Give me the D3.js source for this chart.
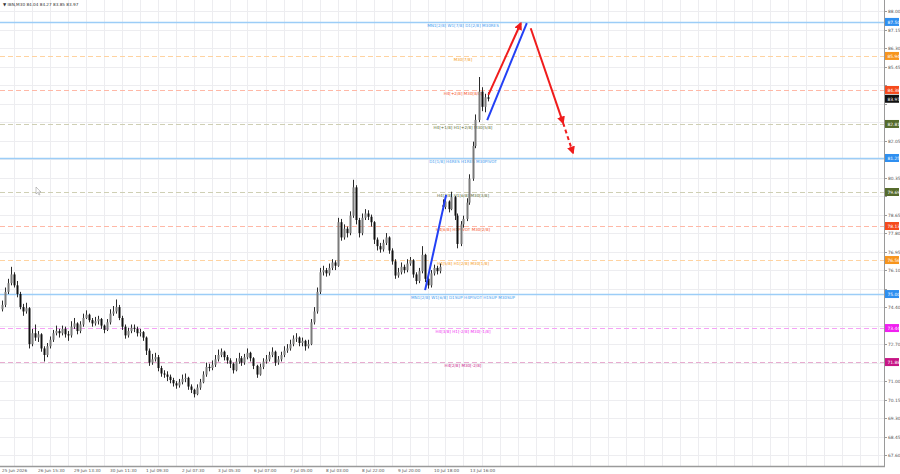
<!DOCTYPE html>
<html>
<head>
<meta charset="utf-8">
<script src="https://cdn.jsdelivr.net/npm/d3@7"></script>
<style>
  body { margin: 0; background: #fff; }
  svg { display: block; font-family: "DejaVu Sans", sans-serif; }
</style>
</head>
<body>
<div class="container"></div>
<script>
/*
IBN M30 candles with murrey-style levels and drawn arrows.
  x = bar index (3px per bar), y = price
*/

const width = 900;
const height = 474;
const plotRight = 884;
const plotBottom = 466;

const symbol = 'IBN,M30';
const lastOHLC = ['84.04', '84.27', '83.85', '83.97'];

const opens = [74.3, 74.5, 75.1, 75.5, 75.9, 75.4, 75.0, 74.4, 74.2, 74.35,
    72.7, 73.2, 73.0, 73.15, 72.5, 72.2, 72.6, 72.9, 73.2, 73.3,
    73.2, 73.4, 73.15, 73.1, 73.5, 73.65, 73.3, 73.6, 73.9, 74.05,
    73.8, 73.65, 73.75, 73.85, 73.55, 73.35, 73.7, 74.1, 74.2, 74.4,
    73.9, 73.5, 73.1, 73.3, 73.45, 73.4, 73.2, 73.25, 73.0, 72.4,
    71.85, 72.0, 72.1, 71.6, 71.35, 71.3, 71.2, 71.05, 70.9, 70.8,
    70.95, 71.1, 71.15, 70.75, 70.6, 70.4, 70.7, 70.95, 71.3, 71.65,
    71.6, 71.75, 72.0, 72.2, 72.35, 72.1, 71.95, 71.8, 71.5, 71.9,
    72.05, 71.85, 72.1, 72.3, 72.05, 71.7, 71.3, 71.65, 71.9, 72.0,
    72.2, 72.35, 71.85, 72.0, 72.2, 72.4, 72.5, 72.7, 72.95, 73.0,
    72.75, 72.85, 72.6, 72.7, 73.7, 74.2, 75.1, 76.0, 76.1, 75.95,
    76.2, 76.45, 76.3, 78.3, 77.6, 78.0, 77.8, 78.6, 79.9, 78.4,
    77.8, 78.5, 78.7, 78.55, 78.3, 77.5, 77.2, 77.05, 77.35, 77.6,
    77.0, 76.5, 75.85, 76.0, 76.25, 76.1, 76.4, 76.55, 75.9, 75.6,
    76.05, 76.8, 75.7, 75.4, 75.95, 76.2, 76.05, 79.1, 79.0, 79.25,
    78.9, 79.45, 78.6, 77.3, 78.2, 78.45, 79.2, 80.3, 81.8, 83.0,
    84.3, 83.6, 84.04];

const highs = [74.7, 75.3, 75.7, 76.25, 76.0, 75.6, 75.1, 74.55, 74.6, 74.4,
    73.4, 73.6, 73.3, 73.2, 72.6, 72.75, 73.05, 73.35, 73.55, 73.4,
    73.55, 73.5, 73.3, 73.75, 73.9, 73.7, 73.75, 74.1, 74.25, 74.1,
    73.9, 73.95, 74.0, 73.9, 73.6, 73.85, 74.3, 74.45, 74.75, 74.5,
    74.0, 73.6, 73.45, 73.6, 73.6, 73.5, 73.4, 73.3, 73.05, 72.5,
    72.25, 72.3, 72.2, 71.7, 71.5, 71.45, 71.3, 71.15, 71.0, 71.1,
    71.3, 71.35, 71.2, 70.85, 70.65, 70.85, 71.1, 71.45, 71.85, 71.8,
    71.95, 72.2, 72.45, 72.5, 72.4, 72.2, 72.05, 71.85, 72.05, 72.3,
    72.15, 72.25, 72.5, 72.35, 72.1, 71.75, 71.8, 72.05, 72.2, 72.35,
    72.55, 72.4, 72.15, 72.35, 72.6, 72.7, 72.9, 73.1, 73.2, 73.05,
    73.0, 72.9, 72.9, 73.85, 74.4, 75.3, 76.2, 76.3, 76.2, 76.4,
    76.6, 76.55, 78.5, 78.45, 78.2, 78.1, 78.8, 80.25, 80.0, 78.5,
    78.7, 78.9, 78.85, 78.65, 78.35, 77.6, 77.35, 77.5, 77.8, 77.65,
    77.1, 76.6, 76.2, 76.45, 76.35, 76.6, 76.7, 76.6, 76.0, 76.2,
    77.2, 76.85, 75.8, 76.1, 76.35, 76.3, 76.4, 79.35, 79.5, 79.3,
    79.7, 79.5, 78.7, 78.35, 78.6, 79.4, 80.5, 82.0, 83.25, 84.97,
    84.5, 84.2, 84.27];

const lows = [74.2, 74.4, 75.0, 75.4, 75.3, 74.85, 74.3, 74.0, 74.1, 72.5,
    72.6, 72.85, 72.8, 72.35, 71.9, 72.1, 72.5, 72.8, 73.1, 73.0,
    73.1, 73.0, 72.85, 73.0, 73.4, 73.15, 73.2, 73.5, 73.85, 73.7,
    73.5, 73.55, 73.6, 73.4, 73.2, 73.3, 73.6, 74.0, 74.1, 73.8,
    73.35, 72.95, 73.0, 73.2, 73.25, 73.05, 73.05, 72.85, 72.2, 71.7,
    71.75, 71.9, 71.45, 71.2, 71.15, 71.0, 70.9, 70.75, 70.65, 70.7,
    70.85, 70.95, 70.6, 70.45, 70.25, 70.35, 70.6, 70.9, 71.2, 71.45,
    71.5, 71.65, 71.9, 72.1, 71.95, 71.8, 71.6, 71.35, 71.45, 71.8,
    71.7, 71.75, 72.0, 71.9, 71.55, 71.15, 71.25, 71.55, 71.8, 71.9,
    72.1, 71.7, 71.75, 71.9, 72.1, 72.3, 72.4, 72.6, 72.8, 72.6,
    72.6, 72.4, 72.5, 72.65, 73.6, 74.1, 75.0, 75.85, 75.8, 75.85,
    76.1, 76.1, 76.25, 77.45, 77.5, 77.6, 77.7, 78.5, 78.2, 77.6,
    77.7, 78.4, 78.4, 78.1, 77.3, 77.0, 76.9, 76.95, 77.25, 76.85,
    76.35, 75.7, 75.75, 75.9, 75.95, 76.0, 76.3, 75.75, 75.45, 75.5,
    75.95, 75.55, 75.25, 75.3, 75.85, 75.9, 75.95, 78.85, 78.9, 78.75,
    78.85, 78.4, 77.1, 77.2, 78.05, 78.35, 79.1, 80.2, 81.7, 82.9,
    83.4, 83.35, 83.85];

const closes = [74.5, 75.1, 75.5, 75.9, 75.4, 75.0, 74.4, 74.2, 74.35, 72.7,
    73.2, 73.0, 73.15, 72.5, 72.2, 72.6, 72.9, 73.2, 73.3, 73.2,
    73.4, 73.15, 73.1, 73.5, 73.65, 73.3, 73.6, 73.9, 74.05, 73.8,
    73.65, 73.75, 73.85, 73.55, 73.35, 73.7, 74.1, 74.2, 74.4, 73.9,
    73.5, 73.1, 73.3, 73.45, 73.4, 73.2, 73.25, 73.0, 72.4, 71.85,
    72.0, 72.1, 71.6, 71.35, 71.3, 71.2, 71.05, 70.9, 70.8, 70.95,
    71.1, 71.15, 70.75, 70.6, 70.4, 70.7, 70.95, 71.3, 71.65, 71.6,
    71.75, 72.0, 72.2, 72.35, 72.1, 71.95, 71.8, 71.5, 71.9, 72.05,
    71.85, 72.1, 72.3, 72.05, 71.7, 71.3, 71.65, 71.9, 72.0, 72.2,
    72.35, 71.85, 72.0, 72.2, 72.4, 72.5, 72.7, 72.95, 73.0, 72.75,
    72.85, 72.6, 72.7, 73.7, 74.2, 75.1, 76.0, 76.1, 75.95, 76.2,
    76.45, 76.3, 78.3, 77.6, 78.0, 77.8, 78.6, 79.9, 78.4, 77.8,
    78.5, 78.7, 78.55, 78.3, 77.5, 77.2, 77.05, 77.35, 77.6, 77.0,
    76.5, 75.85, 76.0, 76.25, 76.1, 76.4, 76.55, 75.9, 75.6, 76.05,
    76.8, 75.7, 75.4, 75.95, 76.2, 76.05, 76.25, 79.0, 79.25, 78.9,
    79.45, 78.6, 77.3, 78.2, 78.45, 79.2, 80.3, 81.8, 83.0, 84.3,
    83.6, 84.04, 83.97];

// time axis labels, one every 12 bars
const timeLabels = ['25 Jun 2026', '26 Jun 15:30', '29 Jun 13:30', '30 Jun 11:30',
    '1 Jul 09:30', '2 Jul 07:30', '3 Jul 05:30', '6 Jul 07:00', '7 Jul 05:00',
    '8 Jul 03:00', '8 Jul 22:00', '9 Jul 20:00', '10 Jul 18:00', '13 Jul 16:00'];

// levels
const levelPrices = [87.5, 85.9375, 84.375, 82.8125, 81.25, 79.6875, 78.125, 76.5625, 75.0, 73.4375, 71.875];
const levelKinds = ['blue', 'orange', 'red', 'olive', 'blue', 'olive', 'red', 'orange', 'blue', 'magenta', 'pink'];
const levelTexts = [
    'MN1[2/8] W1[7/8] D1[2/8] M30RES',
    'M30[7/8]',
    'H4[+2/8] M30[8/8]',
    'H4[+1/8] H1[+2/8] M30[5/8]',
    'D1[1/8] H4RES H1RES M30PIVOT',
    'H4[7/8] H1[6/8] M30[3/8]',
    'H4[6/8] H1PIVOT M30[2/8]',
    'H4[5/8] H1[2/8] M30[1/8]',
    'MN1[2/8] W1[6/8] D1SUP H4PIVOT H1SUP M30SUP',
    'H4[3/8] H1[-2/8] M30[-1/8]',
    'H4[2/8] M30[-2/8]',
];

// hand drawn arrows: [bar, price] -> [bar, price]
const arrowFrom = [[141.2, 75.18], [161.9, 82.99], [162.3, 84.15], [176.4, 87.21], [187.2, 82.86]];
const arrowTo = [[148.2, 79.55], [175.1, 87.44], [173.1, 87.44], [187.2, 82.86], [190.5, 81.48]];
const arrowKinds = ['blue', 'blue', 'redHead', 'redHead', 'redDash'];

const levelStyle = {
    blue: { line: '#9ccdf7', text: '#3d9bf0', box: '#2f8ff0', w: 1.6, dash: null },
    orange: { line: '#ffd3a0', text: '#f59a1a', box: '#f7951d', w: 1, dash: '5,3' },
    red: { line: '#ffb8a6', text: '#f5552a', box: '#f54a1c', w: 1, dash: '5,3' },
    olive: { line: '#cfcfb4', text: '#5e6e36', box: '#566b2c', w: 1, dash: '5,3' },
    magenta: { line: '#f5a3f5', text: '#f030f0', box: '#f020f0', w: 1, dash: '5,3' },
    pink: { line: '#e8acd0', text: '#c8268a', box: '#c71585', w: 1, dash: '5,3' },
};

function draw() {
    const svg = d3.select('.container')
        .append('svg')
        .attr('width', width)
        .attr('height', height);

    const xscale = d3.scaleLinear().domain([-0.5, 294.5]).range([0, 885]);
    const yscale = d3.scaleLinear().domain([67.1, 88.37]).range([plotBottom, 3]);

    const defs = svg.append('defs');
    defs.append('clipPath').attr('id', 'plot')
        .append('rect').attr('x', 0).attr('y', 0).attr('width', plotRight).attr('height', plotBottom);
    defs.append('marker')
        .attr('id', 'head')
        .attr('viewBox', '0 0 10 10')
        .attr('refX', 8).attr('refY', 5)
        .attr('markerWidth', 4).attr('markerHeight', 4)
        .attr('orient', 'auto')
        .append('path').attr('d', 'M0,0L10,5L0,10z').attr('fill', '#f01c1c');

    // grid
    const priceTicks = d3.range(0, 25).map(i => +(88 - i * 0.85).toFixed(2));
    const grid = svg.append('g').attr('clip-path', 'url(#plot)');
    grid.selectAll('.hg')
        .data(priceTicks)
        .enter()
        .append('line')
        .attr('x1', 0).attr('x2', plotRight)
        .attr('y1', d => Math.round(yscale(d)) + 0.5)
        .attr('y2', d => Math.round(yscale(d)) + 0.5)
        .attr('stroke', '#ededf0');
    grid.selectAll('.vg')
        .data(d3.range(4, 295, 6))
        .enter()
        .append('line')
        .attr('y1', 0).attr('y2', plotBottom)
        .attr('x1', d => Math.round(xscale(d)) + 0.5)
        .attr('x2', d => Math.round(xscale(d)) + 0.5)
        .attr('stroke', '#ededf0');

    // levels
    const levels = levelPrices.map((p, i) => ({ price: p, kind: levelKinds[i], text: levelTexts[i] }));
    const lv = svg.append('g').attr('clip-path', 'url(#plot)');
    lv.selectAll('.level')
        .data(levels)
        .enter()
        .append('line')
        .attr('x1', 0).attr('x2', plotRight)
        .attr('y1', d => Math.round(yscale(d.price)) + 0.5)
        .attr('y2', d => Math.round(yscale(d.price)) + 0.5)
        .attr('stroke', d => levelStyle[d.kind].line)
        .attr('stroke-width', d => levelStyle[d.kind].w)
        .attr('stroke-dasharray', d => levelStyle[d.kind].dash);
    lv.selectAll('.ltext')
        .data(levels)
        .enter()
        .append('text')
        .attr('x', 463)
        .attr('y', d => yscale(d.price) + 5)
        .attr('text-anchor', 'middle')
        .attr('font-size', 4.1)
        .attr('fill', d => levelStyle[d.kind].text)
        .text(d => d.text);

    // candles
    const bars = closes.map((c, i) => ({ i, o: opens[i], h: highs[i], l: lows[i], c }));
    const cg = svg.append('g');
    cg.selectAll('.wick')
        .data(bars)
        .enter()
        .append('line')
        .attr('x1', d => Math.round(xscale(d.i)) + 0.5)
        .attr('x2', d => Math.round(xscale(d.i)) + 0.5)
        .attr('y1', d => yscale(d.h))
        .attr('y2', d => yscale(d.l))
        .attr('stroke', '#2a2a2a')
        .attr('stroke-width', 1);
    cg.selectAll('.body')
        .data(bars)
        .enter()
        .append('rect')
        .attr('x', d => Math.round(xscale(d.i)) - 0.5)
        .attr('width', 2)
        .attr('y', d => yscale(Math.max(d.o, d.c)))
        .attr('height', d => Math.max(1, Math.abs(yscale(d.o) - yscale(d.c))))
        .attr('fill', d => d.c >= d.o ? '#7a7a7a' : '#111');

    // arrows
    const ag = svg.append('g');
    arrowFrom.forEach((a, k) => {
        const kind = arrowKinds[k];
        ag.append('line')
            .attr('x1', xscale(a[0])).attr('y1', yscale(a[1]))
            .attr('x2', xscale(arrowTo[k][0])).attr('y2', yscale(arrowTo[k][1]))
            .attr('stroke', kind === 'blue' ? '#2340f5' : '#f01c1c')
            .attr('stroke-width', 2)
            .attr('stroke-dasharray', kind === 'redDash' ? '4,3' : null)
            .attr('marker-end', kind === 'blue' ? null : 'url(#head)');
    });

    // frame
    svg.append('line')
        .attr('x1', plotRight + 0.5).attr('x2', plotRight + 0.5)
        .attr('y1', 0).attr('y2', plotBottom + 1)
        .attr('stroke', '#9a9a9a');
    svg.append('line')
        .attr('x1', 0).attr('x2', plotRight + 1)
        .attr('y1', plotBottom + 0.5).attr('y2', plotBottom + 0.5)
        .attr('stroke', '#9a9a9a').attr('stroke-width', 1.5);

    // level price boxes (last close on top)
    const boxes = levels.map(d => ({ price: d.price, color: levelStyle[d.kind].box }))
        .concat([{ price: closes[closes.length - 1], color: '#111' }]);

    // price axis, hide tick labels that sit under a box
    const freeTicks = priceTicks.filter(t => boxes.every(b => Math.abs(yscale(b.price) - yscale(t)) > 6));
    const axisG = svg.append('g');
    axisG.selectAll('.ptick')
        .data(priceTicks)
        .enter()
        .append('line')
        .attr('x1', plotRight).attr('x2', plotRight + 3)
        .attr('y1', d => Math.round(yscale(d)) + 0.5)
        .attr('y2', d => Math.round(yscale(d)) + 0.5)
        .attr('stroke', '#9a9a9a');
    axisG.selectAll('.plabel')
        .data(freeTicks)
        .enter()
        .append('text')
        .attr('x', 888)
        .attr('y', d => yscale(d) + 2)
        .attr('font-size', 4.4)
        .attr('fill', '#555')
        .text(d => d.toFixed(2));

    const bg = axisG.selectAll('.box')
        .data(boxes)
        .enter()
        .append('g');
    bg.append('rect')
        .attr('x', plotRight + 1)
        .attr('y', d => yscale(d.price) - 4)
        .attr('width', 14)
        .attr('height', 8)
        .attr('fill', d => d.color);
    bg.append('text')
        .attr('x', 887.5)
        .attr('y', d => yscale(d.price) + 1.8)
        .attr('font-size', 4.4)
        .attr('fill', '#fff')
        .text(d => d.price.toFixed(2));

    // time axis
    axisG.selectAll('.tlabel')
        .data(timeLabels)
        .enter()
        .append('text')
        .attr('x', (d, i) => xscale(i * 12) + 0.5)
        .attr('y', 472)
        .attr('font-size', 4.2)
        .attr('fill', '#555')
        .text(d => d);

    // title
    svg.append('text')
        .attr('x', 3).attr('y', 6)
        .attr('font-size', 4.2)
        .attr('fill', '#333')
        .text('\u25BC ' + symbol + ' ' + lastOHLC.join(' '));

    // stray mouse cursor
    svg.append('path')
        .attr('d', 'M36,187l0,7l1.6,-1.6l1.4,2.6l1,-0.5l-1.4,-2.5l2.3,0z')
        .attr('fill', '#fff')
        .attr('stroke', '#888')
        .attr('stroke-width', 0.5);
}

draw();
</script>
</body>
</html>
